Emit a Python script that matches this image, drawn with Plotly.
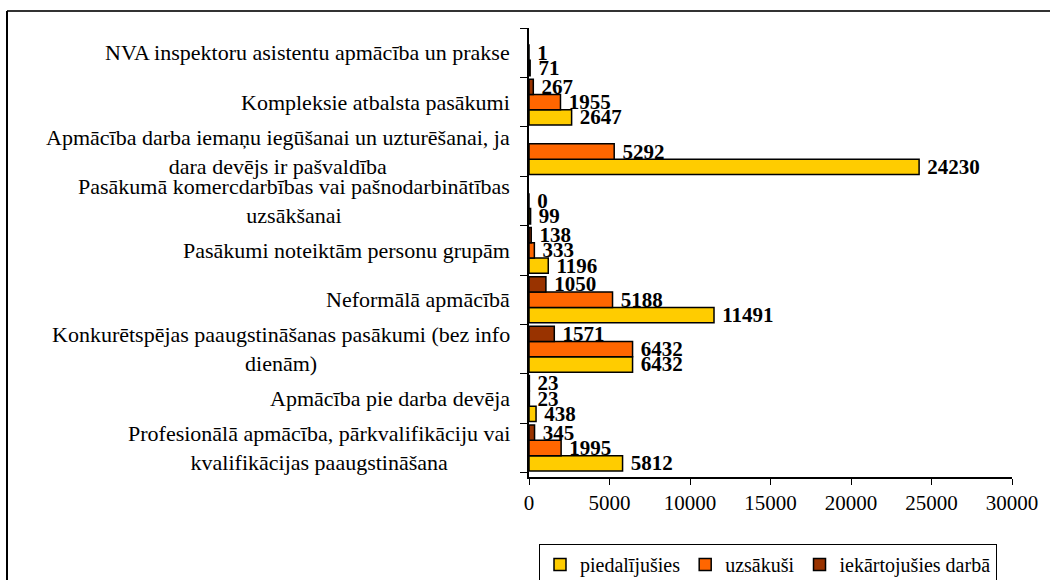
import plotly.graph_objects as go

categories = [
    "Profesionālā apmācība, pārkvalifikāciju vai<br>kvalifikācijas paaugstināšana",
    "Apmācība pie darba devēja",
    "Konkurētspējas paaugstināšanas pasākumi (bez info<br>dienām)",
    "Neformālā apmācībā",
    "Pasākumi noteiktām personu grupām",
    "Pasākumā komercdarbības vai pašnodarbinātības<br>uzsākšanai",
    "Apmācība darba iemaņu iegūšanai un uzturēšanai, ja<br>dara devējs ir pašvaldība",
    "Kompleksie atbalsta pasākumi",
    "NVA inspektoru asistentu apmācība un prakse",
]
piedalijusies = [5812, 438, 6432, 11491, 1196, 99, 24230, 2647, 71]
uzsakusi = [1995, 23, 6432, 5188, 333, 0, 5292, 1955, 1]
iekartojusies = [345, 23, 1571, 1050, 138, None, None, 267, None]
series_names = ["piedalījušies", "uzsākuši", "iekārtojušies darbā"]
series_colors = ["#FFCC00", "#FF6600", "#993300"]
x_ticks = [0, 5000, 10000, 15000, 20000, 25000, 30000]

W, H = 1050, 580
L, R, T, B = 529, 38, 28, 103
pw, ph = W - L - R, H - T - B

serif = "Liberation Serif, Times New Roman, serif"

fig = go.Figure()
for name, vals, col in zip(series_names, [piedalijusies, uzsakusi, iekartojusies], series_colors):
    fig.add_trace(go.Bar(
        y=categories, x=vals, name=name, orientation="h",
        marker=dict(color=col, line=dict(color="black", width=1.5)),
        text=[("" if v is None else f"\u00a0<b>{v}</b>") for v in vals],
        textposition="outside", cliponaxis=False, constraintext="none",
        textfont=dict(family=serif, size=21, color="black"),
    ))

for c in categories:
    fig.add_annotation(
        x=-17 / pw, xref="paper", y=c, yref="y", text=c, showarrow=False,
        xanchor="right", align="center", yanchor="middle",
        font=dict(family=serif, size=22, color="black"),
    )

# outer frame (left and top lines)
fig.add_shape(type="line", xref="paper", yref="paper",
              x0=(7 - L) / pw, x1=(W + 5 - L) / pw,
              y0=(H - B - 11) / ph, y1=(H - B - 11) / ph,
              line=dict(color="#333333", width=2))
fig.add_shape(type="line", xref="paper", yref="paper",
              x0=(7 - L) / pw, x1=(7 - L) / pw,
              y0=(H - B - 11) / ph, y1=(H - B - 600) / ph,
              line=dict(color="black", width=2))

fig.update_layout(
    width=W, height=H,
    margin=dict(l=L, r=R, t=T, b=B, pad=0, autoexpand=False),
    paper_bgcolor="white", plot_bgcolor="white",
    barmode="group", bargap=0.07, bargroupgap=0,
    showlegend=True,
    legend=dict(
        orientation="h", x=(768 - L) / pw, xanchor="center",
        y=(H - B - 544) / ph, yanchor="top",
        bordercolor="black", borderwidth=1, bgcolor="white",
        font=dict(family=serif, size=20, color="black"),
        traceorder="normal", itemwidth=30,
    ),
    xaxis=dict(
        range=[0, 30000], tickvals=x_ticks, ticktext=[str(v) for v in x_ticks],
        showline=True, linecolor="black", linewidth=1.5,
        ticks="outside", ticklen=6, tickcolor="black", tickwidth=1,
        showgrid=False, zeroline=False, automargin=False,
        tickfont=dict(family=serif, size=21, color="black"),
    ),
    yaxis=dict(
        type="category", categoryorder="array", categoryarray=categories,
        showline=True, linecolor="black", linewidth=1.5,
        ticks="outside", ticklen=7, tickcolor="black", tickwidth=1,
        tickson="boundaries", showticklabels=False, showgrid=False, automargin=False,
    ),
)

fig.write_html("out.html", post_script="document.body.style.margin='0';",
               config={"displayModeBar": False})
